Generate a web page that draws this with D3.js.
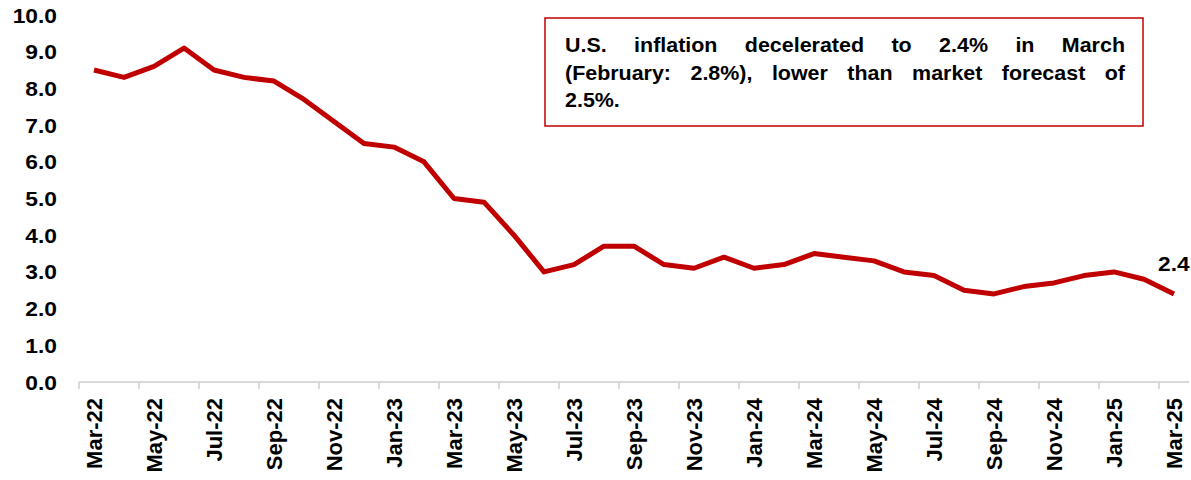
<!DOCTYPE html>
<html>
<head>
<meta charset="utf-8">
<script src="https://cdn.jsdelivr.net/npm/d3@7"></script>
<style>
  body { margin: 0; background: #fff; }
  text { font-family: "Liberation Sans", Arial, sans-serif; font-weight: bold; fill: #000; }
</style>
</head>
<body>
<svg id="chart" width="1191" height="480"></svg>
<script>
// months on the category axis
var months = ["Mar-22","Apr-22","May-22","Jun-22","Jul-22","Aug-22","Sep-22","Oct-22","Nov-22","Dec-22",
  "Jan-23","Feb-23","Mar-23","Apr-23","May-23","Jun-23","Jul-23","Aug-23","Sep-23","Oct-23","Nov-23","Dec-23",
  "Jan-24","Feb-24","Mar-24","Apr-24","May-24","Jun-24","Jul-24","Aug-24","Sep-24","Oct-24","Nov-24","Dec-24",
  "Jan-25","Feb-25","Mar-25"];
// US CPI, % yoy
var cpi = [8.5,8.3,8.6,9.1,8.5,8.3,8.2,7.7,7.1,6.5,
  6.4,6.0,5.0,4.9,4.0,3.0,3.2,3.7,3.7,3.2,3.1,3.4,
  3.1,3.2,3.5,3.4,3.3,3.0,2.9,2.5,2.4,2.6,2.7,2.9,
  3.0,2.8,2.4];
var yTicks = [0,1,2,3,4,5,6,7,8,9,10];
var noteLines = ["U.S. inflation decelerated to 2.4% in March",
  "(February: 2.8%), lower than market forecast of",
  "2.5%."];

var svg = d3.select("#chart");
// (window.top is read only, so plotTop)
var plotLeft = 79, plotRight = 1189, plotTop = 15, plotBottom = 382;

var x = d3.scaleBand().domain(months).range([plotLeft, plotRight]).padding(0);
var y = d3.scaleLinear().domain([0, 10]).range([plotBottom, plotTop]);

// x axis: light grey line, ticks every 2nd month between categories
svg.append("line")
  .attr("x1", plotLeft).attr("x2", plotRight)
  .attr("y1", plotBottom).attr("y2", plotBottom)
  .attr("stroke", "#d9d9d9").attr("stroke-width", 2);

var shown = months.filter((d, i) => i % 2 == 0);

svg.selectAll(".tick-x")
  .data(shown)
  .enter().append("line")
  .attr("class", "tick-x")
  .attr("x1", d => x(d)).attr("x2", d => x(d))
  .attr("y1", plotBottom).attr("y2", plotBottom + 7)
  .attr("stroke", "#d9d9d9").attr("stroke-width", 2);

svg.selectAll(".lab-x")
  .data(shown)
  .enter().append("text")
  .attr("class", "lab-x")
  .attr("transform", d => "translate(" + (x(d) + x.bandwidth() / 2) + "," + (plotBottom + 16) + ") rotate(-90)")
  .attr("dy", "0.35em")
  .attr("text-anchor", "end")
  .style("font-size", "22px")
  .text(d => d);

// y axis labels only
var yAxis = svg.append("g")
  .attr("transform", "translate(" + (plotLeft - 22) + ",0)")
  .call(d3.axisLeft(y).tickValues(yTicks).tickSize(0).tickPadding(0).tickFormat(d3.format(".1f")));
yAxis.select(".domain").remove();
yAxis.selectAll("text")
  .attr("font-family", null).attr("font-size", null)
  .style("font-size", "20px")
  .attr("x", 0).attr("dy", "0.35em")
  .attr("transform", "scale(1.14,1)");

// the line
var line = d3.line()
  .x((d, i) => x(months[i]) + x.bandwidth() / 2)
  .y(d => y(d));

svg.append("path")
  .datum(cpi)
  .attr("fill", "none")
  .attr("stroke", "#c00000")
  .attr("stroke-width", 5)
  .attr("stroke-linejoin", "round")
  .attr("d", line);

// last value label
var last = cpi.length - 1;
svg.append("text")
  .attr("transform", "translate(" + (x(months[last]) + x.bandwidth() / 2 - 16) + "," + (y(cpi[last]) - 23) + ") scale(1.14,1)")
  .style("font-size", "20px")
  .text(cpi[last].toFixed(1));

// note box
svg.append("rect")
  .attr("x", 545).attr("y", 18)
  .attr("width", 598).attr("height", 108)
  .attr("fill", "#fff")
  .attr("stroke", "#c00000").attr("stroke-width", 1.5);

var sx = 1.1, noteLeft = 565, noteRight = 1125;
var lineW = (noteRight - noteLeft) / sx;
var note = svg.append("g").attr("transform", "translate(" + noteLeft + ",0) scale(" + sx + ",1)");
var baselines = [52, 80, 107];

noteLines.forEach(function(txt, li) {
  var words = txt.split(" ");
  var nodes = words.map(w => note.append("text")
    .attr("y", baselines[li])
    .style("font-size", "19.5px")
    .text(w));
  var widths = nodes.map(n => n.node().getComputedTextLength());
  var total = d3.sum(widths);
  // justify every line except the last one
  var gap = (li < noteLines.length - 1 && words.length > 1) ? (lineW - total) / (words.length - 1) : 5.4;
  var pos = 0;
  nodes.forEach(function(n, i) {
    n.attr("x", pos);
    pos += widths[i] + gap;
  });
});
</script>
</body>
</html>
